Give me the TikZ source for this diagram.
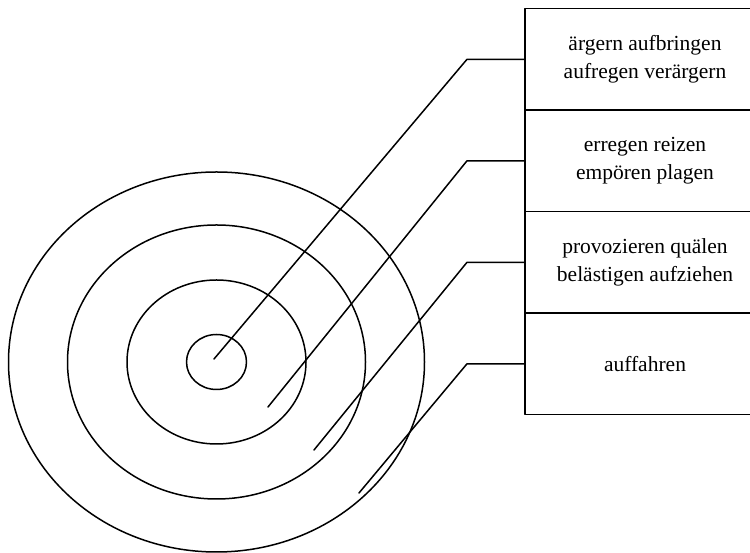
\documentclass[tikz,border=0pt]{standalone}
\usepackage{fontspec}
\setmainfont{Liberation Serif}
\usetikzlibrary{positioning}
\begin{document}
\begin{tikzpicture}
% target rings with word boxes
\def\unitsz{1pt}
\providecommand{\ringLineWidth}{1.5pt}
\providecommand{\boxWidth}{240pt}
\providecommand{\boxHeight}{101.5pt}
\tikzset{
  wordbox/.style={draw, rectangle, minimum width=\boxWidth, minimum height=\boxHeight,
    inner sep=0pt, outer sep=0pt, align=center, font=\fontsize{21.5}{28}\selectfont},
}
\begin{scope}[x=\unitsz, y=\unitsz, line width=\ringLineWidth, line cap=round, line join=round]
  \clip (0,0) rectangle (750,553);
  \useasboundingbox (0,0) rectangle (750,553);
  % Rings
  \coordinate (ctr) at (216.5,191);
  \draw (ctr) ellipse [x radius=208pt, y radius=190pt];
  \draw (ctr) ellipse [x radius=149pt, y radius=137pt];
  \draw (ctr) ellipse [x radius=89.5pt, y radius=82pt];
  \draw (ctr) ellipse [x radius=30pt, y radius=27.5pt];
  % Word boxes
  \node[wordbox] (b1) at (645,493.7) {ärgern aufbringen\\aufregen verärgern};
  \node[wordbox, below=0pt of b1] (b2) {erregen reizen\\empören plagen};
  \node[wordbox, below=0pt of b2] (b3) {provozieren quälen\\belästigen aufziehen};
  \node[wordbox, below=0pt of b3] (b4) {auffahren};
  % Leader ends
  \coordinate (s1) at (214,194);
  \coordinate (s2) at (268,146);
  \coordinate (s3) at (314,103);
  \coordinate (s4) at (359,60);
  \coordinate (k1) at (467,0 |- b1.west);
  \coordinate (k2) at (467,0 |- b2.west);
  \coordinate (k3) at (467,0 |- b3.west);
  \coordinate (k4) at (467,0 |- b4.west);
  % Leaders
  \draw (s1) -- (k1) -- (b1.west);
  \draw (s2) -- (k2) -- (b2.west);
  \draw (s3) -- (k3) -- (b3.west);
  \draw (s4) -- (k4) -- (b4.west);
\end{scope}
\end{tikzpicture}
\end{document}
